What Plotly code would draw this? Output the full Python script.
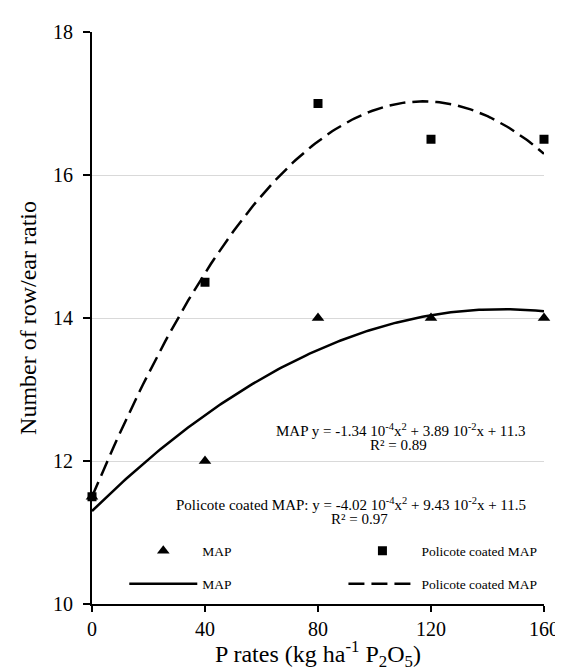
import numpy as np
import plotly.graph_objects as go

# ---- data ----
p_rates = [0, 40, 80, 120, 160]
map_values = [11.5, 12.0, 14.0, 14.0, 14.0]
policote_values = [11.5, 14.5, 17.0, 16.5, 16.5]

# quadratic fit coefficients shown on the chart (a, b, c for a*x^2 + b*x + c)
map_coefs = [-1.34e-4, 3.89e-2, 11.3]
policote_coefs = [-4.02e-4, 9.43e-2, 11.5]

x_ticks = [0, 40, 80, 120, 160]
y_ticks = [10, 12, 14, 16, 18]

x_title = "P rates (kg ha<sup>-1</sup> P<sub>2</sub>O<sub>5</sub>)"
y_title = "Number of row/ear ratio"

FONT = "Liberation Serif"

xs = np.linspace(0, 160, 161)
map_fit = np.polyval(map_coefs, xs)
pol_fit = np.polyval(policote_coefs, xs)

# plot area in pixels (for placing paper-referenced items)
L, R, T, B = 84, 546, 24, 596
def px(xp):
    return (xp - L) / (R - L)
def py(yp):
    return (B - yp) / (B - T)

fig = go.Figure()

fig.add_trace(go.Scatter(x=p_rates, y=map_values, mode="markers", name="MAP",
                         marker=dict(symbol="triangle-up", size=11, color="black"),
                         cliponaxis=False, legend="legend"))
fig.add_trace(go.Scatter(x=p_rates, y=policote_values, mode="markers", name="Policote coated MAP",
                         marker=dict(symbol="square", size=9, color="black"),
                         cliponaxis=False, legend="legend2"))
fig.add_trace(go.Scatter(x=xs, y=map_fit, mode="lines", name="MAP",
                         line=dict(color="black", width=2.5), legend="legend3"))
fig.add_trace(go.Scatter(x=xs, y=pol_fit, mode="lines", name="Policote coated MAP",
                         line=dict(color="black", width=2.5, dash="16px,7px"), legend="legend4"))

def eq_text(label, coefs):
    a, b, c = coefs
    return (f"{label}y = {a*1e4:.2f} 10<sup>-4</sup>x<sup>2</sup> + {b*1e2:.2f} 10<sup>-2</sup>x + {c:.1f}")

ann_font = dict(family=FONT, size=15, color="black")
fig.add_annotation(x=px(400), y=py(422), xref="paper", yref="paper", yanchor="middle",
                   xanchor="center", text=eq_text("MAP ", map_coefs), showarrow=False, font=ann_font)
fig.add_annotation(x=px(397), y=py(437), xref="paper", yref="paper", yanchor="middle",
                   xanchor="center", text="R² = 0.89", showarrow=False, font=ann_font)
fig.add_annotation(x=px(349), y=py(496), xref="paper", yref="paper", yanchor="middle",
                   xanchor="center", text=eq_text("Policote coated MAP: ", policote_coefs),
                   showarrow=False, font=ann_font)
fig.add_annotation(x=px(357), y=py(511), xref="paper", yref="paper", yanchor="middle",
                   xanchor="center", text="R² = 0.97", showarrow=False, font=ann_font)

# x-axis title, placed as a paper annotation below the tick labels
fig.add_annotation(x=0.5, y=py(646), xref="paper", yref="paper", yanchor="middle",
                   xanchor="center", text=x_title, showarrow=False, borderpad=0,
                   font=dict(family=FONT, size=24, color="black"))

legend_common = dict(orientation="h", xanchor="left", yanchor="middle",
                     bgcolor="rgba(0,0,0,0)", font=dict(family=FONT, size=13.5, color="black"),
                     itemwidth=68, itemclick=False, itemdoubleclick=False)

fig.update_layout(
    width=563, height=669,
    margin=dict(l=L, r=563 - R, t=T, b=669 - B),
    plot_bgcolor="white", paper_bgcolor="white",
    font=dict(family=FONT, color="black"),
    showlegend=True,
    legend=dict(x=px(117), y=py(543), **legend_common),
    legend2=dict(x=px(341), y=py(543), **legend_common),
    legend3=dict(x=px(117), y=py(576), **legend_common),
    legend4=dict(x=px(341), y=py(576), **legend_common),
    xaxis=dict(range=[0, 160], tickvals=x_ticks, ticks="outside", ticklen=6, tickwidth=1.5,
               tickcolor="black", showline=True, linecolor="black", linewidth=2,
               showgrid=False, zeroline=False, tickfont=dict(family=FONT, size=20)),
    yaxis=dict(range=[10, 18], tickvals=y_ticks, ticks="outside", ticklen=7, tickwidth=1.5,
               tickcolor="black", showline=True, linecolor="black", linewidth=2,
               showgrid=True, gridcolor="#d9d9d9", gridwidth=1, zeroline=False,
               tickfont=dict(family=FONT, size=20), ticklabelstandoff=6,
               title=dict(text=y_title, font=dict(family=FONT, size=24), standoff=10)),
)

fig.write_html("out.html")
